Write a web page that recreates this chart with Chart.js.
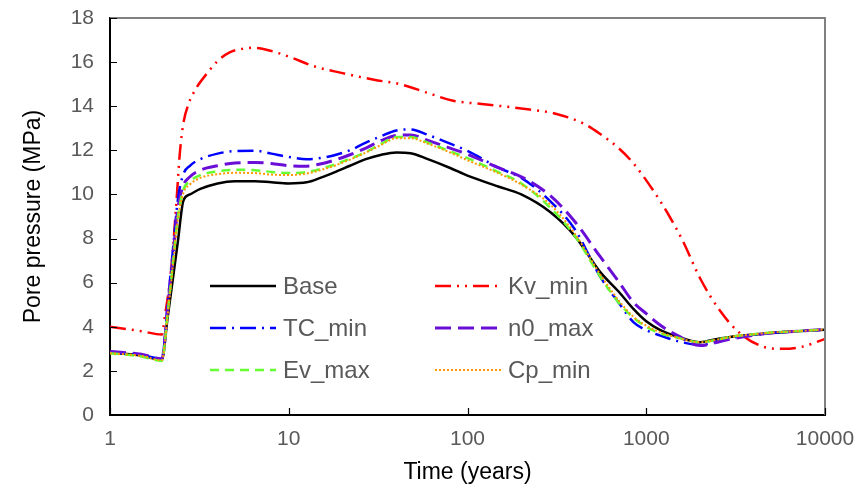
<!DOCTYPE html>
<html>
<head>
<meta charset="utf-8">
<script src="https://cdn.jsdelivr.net/npm/chart.js@4.4.1/dist/chart.umd.min.js"></script>
<style>
  html, body { margin: 0; padding: 0; background: #fff; }
  #wrap { width: 864px; height: 498px; }
</style>
</head>
<body>
<div id="wrap"><canvas id="myChart" width="864" height="498"></canvas></div>
<script>
// time (years), shared by most runs
const time = [1, 1.5, 1.95, 2.1, 2.25, 2.4, 2.57, 2.8, 3.2, 4, 5, 6.5, 8, 10, 12.6, 15, 18, 22, 27, 33, 40, 48, 60, 80, 100, 150, 200, 290, 400, 550, 700, 850, 1000, 1200, 1500, 2000, 2500, 3000, 4000, 5000, 7000, 10000];

const base  = [2.82, 2.7, 2.5, 4.4, 6.2, 7.9, 9.7, 10.0, 10.25, 10.5, 10.6, 10.6, 10.55, 10.5, 10.55, 10.75, 11.0, 11.3, 11.6, 11.8, 11.9, 11.87, 11.6, 11.2, 10.85, 10.35, 10.0, 9.2, 8.1, 6.5, 5.6, 4.8, 4.25, 3.85, 3.55, 3.3, 3.45, 3.55, 3.65, 3.72, 3.8, 3.87];
const tcMin = [2.85, 2.72, 2.55, 5.0, 7.5, 9.8, 10.9, 11.3, 11.6, 11.85, 11.97, 11.98, 11.85, 11.7, 11.6, 11.65, 11.78, 12.0, 12.35, 12.65, 12.9, 12.95, 12.7, 12.3, 11.97, 11.2, 10.75, 9.7, 8.4, 6.3, 5.1, 4.2, 3.85, 3.6, 3.35, 3.18, 3.35, 3.5, 3.65, 3.72, 3.8, 3.87];
const n0Max = [2.88, 2.75, 2.55, 4.8, 7.2, 9.4, 10.4, 10.8, 11.1, 11.3, 11.43, 11.45, 11.4, 11.3, 11.28, 11.38, 11.55, 11.8, 12.1, 12.45, 12.68, 12.7, 12.45, 12.1, 11.82, 11.2, 10.8, 9.95, 8.75, 7.2, 6.05, 5.1, 4.6, 4.07, 3.6, 3.15, 3.3, 3.45, 3.62, 3.72, 3.8, 3.88];
const evMax = [2.8, 2.65, 2.45, 4.6, 6.9, 9.0, 10.2, 10.6, 10.88, 11.05, 11.12, 11.1, 11.02, 10.97, 11.02, 11.15, 11.35, 11.62, 11.92, 12.3, 12.6, 12.6, 12.35, 11.95, 11.65, 11.0, 10.5, 9.4, 8.1, 6.3, 5.1, 4.4, 4.0, 3.7, 3.5, 3.3, 3.42, 3.55, 3.66, 3.74, 3.8, 3.88];
const cpMin = [2.8, 2.68, 2.48, 4.5, 6.8, 8.9, 10.05, 10.45, 10.75, 10.92, 10.98, 10.97, 10.9, 10.88, 10.95, 11.1, 11.3, 11.58, 11.9, 12.25, 12.55, 12.55, 12.3, 11.9, 11.55, 10.95, 10.45, 9.55, 8.2, 6.4, 5.2, 4.45, 4.05, 3.75, 3.5, 3.3, 3.42, 3.55, 3.66, 3.74, 3.8, 3.88];

// Kv_min has its own time points
const timeKv = [1, 1.5, 1.95, 2.03, 2.2, 2.35, 2.46, 2.57, 2.75, 3.0, 3.5, 4.0, 4.7, 5.5, 6.3, 8, 10, 14, 20, 30, 42, 60, 83, 120, 200, 315, 450, 550, 700, 850, 1100, 1350, 1600, 2000, 2600, 3350, 4500, 5800, 7500, 10000];
const kvMin  = [4.0, 3.8, 3.65, 4.5, 6.6, 9.6, 11.9, 13.2, 14.1, 14.75, 15.5, 16.05, 16.45, 16.6, 16.65, 16.5, 16.25, 15.8, 15.5, 15.2, 15.0, 14.6, 14.25, 14.1, 13.9, 13.65, 13.2, 12.75, 12.1, 11.4, 10.15, 9.0, 7.9, 6.2, 4.7, 3.7, 3.1, 3.0, 3.1, 3.45];

const xTicks = [1, 10, 100, 1000, 10000];
const yTicks = [0, 2, 4, 6, 8, 10, 12, 14, 16, 18];

function pts(xs, ys) {
    return xs.map(function(x, i){ return {x: x, y: ys[i]}; });
}

function ds(label, xs, ys, color, width, dash, order) {
    return {
        label: label,
        data: pts(xs, ys),
        borderColor: color,
        backgroundColor: color,
        borderWidth: width,
        borderDash: dash,
        pointRadius: 0,
        fill: false,
        cubicInterpolationMode: 'monotone',
        order: order
    };
}

const datasets = [
    ds('Base', time, base, '#000000', 2.5, [], 6),
    ds('Kv_min', timeKv, kvMin, '#ff0000', 2.5, [16, 6, 2, 6, 2, 6], 5),
    ds('TC_min', time, tcMin, '#0000ff', 2.5, [16, 6, 2, 6], 4),
    ds('n0_max', time, n0Max, '#6a0dd6', 3, [16, 7], 3),
    ds('Ev_max', time, evMax, '#66ff33', 2.5, [9, 6], 2),
    ds('Cp_min', time, cpMin, '#ff9900', 2, [2, 2], 1)
];

// inward ticks, top/right frame and the in-plot legend
const framePlugin = {
    id: 'frame',
    afterDraw: function(chart) {
        const c = chart.ctx, a = chart.chartArea;
        const xs = chart.scales.x, ys = chart.scales.y;
        c.save();
        c.strokeStyle = '#808080';
        c.lineWidth = 2;
        c.beginPath();
        c.moveTo(a.left, a.top); c.lineTo(a.right, a.top); c.lineTo(a.right, a.bottom);
        c.stroke();
        c.strokeStyle = '#000';
        c.lineWidth = 1.2;
        c.beginPath();
        xTicks.forEach(function(v){
            const px = Math.round(xs.getPixelForValue(v)) + 0.5;
            c.moveTo(px, a.bottom); c.lineTo(px, a.bottom - 7);
        });
        yTicks.forEach(function(v){
            const py = Math.round(ys.getPixelForValue(v)) + 0.5;
            c.moveTo(a.left, py); c.lineTo(a.left + 7, py);
        });
        c.stroke();

        // legend, 2 columns x 3 rows
        const rows = [286, 328, 370];
        const cols = [210, 435];
        c.font = '24px "Liberation Sans", Arial, sans-serif';
        c.textBaseline = 'middle';
        c.fillStyle = '#595959';
        chart.data.datasets.forEach(function(d, i){
            const x = cols[i % 2], y = rows[Math.floor(i / 2)];
            c.strokeStyle = d.borderColor;
            c.lineWidth = d.borderWidth;
            c.setLineDash(d.borderDash);
            c.beginPath();
            c.moveTo(x, y); c.lineTo(x + 66, y);
            c.stroke();
            c.setLineDash([]);
            c.fillText(d.label, x + 73, y + 1);
        });
        c.restore();
    }
};

const ctx = document.getElementById('myChart');
const myChart = new Chart(ctx, {
    type: 'line',
    data: { datasets: datasets },
    options: {
        responsive: false,
        animation: false,
        layout: { padding: { top: 18, right: 39, left: 0, bottom: 0 } },
        plugins: { legend: { display: false }, tooltip: { enabled: false } },
        scales: {
            x: {
                type: 'logarithmic',
                min: 1,
                max: 10000,
                afterBuildTicks: function(scale){
                    scale.ticks = xTicks.map(function(v){ return {value: v}; });
                },
                afterFit: function(scale){
                    scale.height = 83;
                    scale.paddingLeft = 0;
                    scale.paddingRight = 0;
                },
                ticks: {
                    autoSkip: false,
                    maxRotation: 0,
                    padding: 12,
                    color: '#595959',
                    font: { family: '"Liberation Sans", Arial, sans-serif', size: 21 },
                    callback: function(v){ return String(v); }
                },
                grid: { display: false, drawTicks: false },
                border: { display: true, color: '#000', width: 2 },
                title: {
                    display: true,
                    text: 'Time (years)',
                    color: '#000',
                    font: { family: '"Liberation Sans", Arial, sans-serif', size: 23 },
                    padding: { top: 0, bottom: 12 }
                }
            },
            y: {
                type: 'linear',
                min: 0,
                max: 18,
                afterFit: function(scale){
                    scale.width = 110;
                    scale.paddingTop = 0;
                    scale.paddingBottom = 0;
                },
                ticks: {
                    stepSize: 2,
                    padding: 16,
                    color: '#595959',
                    font: { family: '"Liberation Sans", Arial, sans-serif', size: 21 }
                },
                grid: { display: false, drawTicks: false },
                border: { display: true, color: '#000', width: 2 },
                title: {
                    display: true,
                    text: 'Pore pressure (MPa)',
                    color: '#000',
                    font: { family: '"Liberation Sans", Arial, sans-serif', size: 23 },
                    padding: { top: 20, bottom: 4 }
                }
            }
        }
    },
    plugins: [framePlugin]
});
</script>
</body>
</html>
